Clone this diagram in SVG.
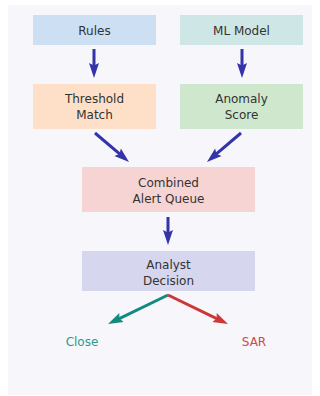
<svg xmlns="http://www.w3.org/2000/svg" width="320" height="396" viewBox="0 0 320 396">
<style>
text{font-family:"DejaVu Sans","Liberation Sans",sans-serif;font-size:12px;fill:#333333;text-anchor:middle}
.a{stroke:#3333aa;stroke-width:3;fill:none}
</style>
<defs>
<marker id="hb" markerUnits="userSpaceOnUse" markerWidth="16" markerHeight="11" refX="3" refY="5" orient="auto" viewBox="0 0 16 10"><path d="M0,0 L15,5 L0,10 L2.5,5 z" fill="#3333aa"/></marker>
<marker id="ht" markerUnits="userSpaceOnUse" markerWidth="16" markerHeight="11" refX="3" refY="5" orient="auto" viewBox="0 0 16 10"><path d="M0,0 L15,5 L0,10 L2.5,5 z" fill="#138a80"/></marker>
<marker id="hr" markerUnits="userSpaceOnUse" markerWidth="16" markerHeight="11" refX="3" refY="5" orient="auto" viewBox="0 0 16 10"><path d="M0,0 L15,5 L0,10 L2.5,5 z" fill="#cc3838"/></marker>
</defs>
<rect x="0" y="0" width="320" height="396" fill="#ffffff"/>
<rect x="8" y="5" width="304" height="390" fill="#f7f6fb"/>
<g id="rules"><rect x="33" y="15" width="123" height="30" fill="#cde0f3"/><text x="94.5" y="35">Rules</text></g>
<g id="ml"><rect x="180" y="15" width="123" height="30" fill="#cfe6e6"/><text x="241.5" y="35">ML Model</text></g>
<g id="threshold"><rect x="33" y="84" width="123" height="45" fill="#fde0c7"/><text x="94.5" y="103.3">Threshold</text><text x="94.5" y="119.3">Match</text></g>
<g id="anomaly"><rect x="180" y="84" width="123" height="45" fill="#cfe8cd"/><text x="241.5" y="103.3">Anomaly</text><text x="241.5" y="119.3">Score</text></g>
<g id="combined"><rect x="82" y="167" width="173" height="45" fill="#f7d4d4"/><text x="168.5" y="186.7">Combined</text><text x="168.5" y="202.7">Alert Queue</text></g>
<g id="analyst"><rect x="82" y="251" width="173" height="40" fill="#d6d6ef"/><text x="168.5" y="268.5">Analyst</text><text x="168.5" y="284.5">Decision</text></g>
<g id="close"><text x="82" y="346" style="fill:#2a9a90">Close</text></g>
<g id="sar"><text x="254" y="346" style="fill:#d04848">SAR</text></g>
<g id="connectors">
<line class="a" x1="94" y1="49" x2="94" y2="66" marker-end="url(#hb)"/>
<line class="a" x1="242" y1="49" x2="242" y2="66" marker-end="url(#hb)"/>
<line class="a" x1="95" y1="133" x2="119.9" y2="154.2" marker-end="url(#hb)"/>
<line class="a" x1="241" y1="133" x2="216.1" y2="154.2" marker-end="url(#hb)"/>
<line class="a" x1="168" y1="217" x2="168" y2="233" marker-end="url(#hb)"/>
<line class="a" x1="168" y1="295" x2="118.8" y2="318.8" style="stroke:#138a80" marker-end="url(#ht)"/>
<line class="a" x1="168" y1="295" x2="217.2" y2="318.8" style="stroke:#cc3838" marker-end="url(#hr)"/>
</g>
</svg>
